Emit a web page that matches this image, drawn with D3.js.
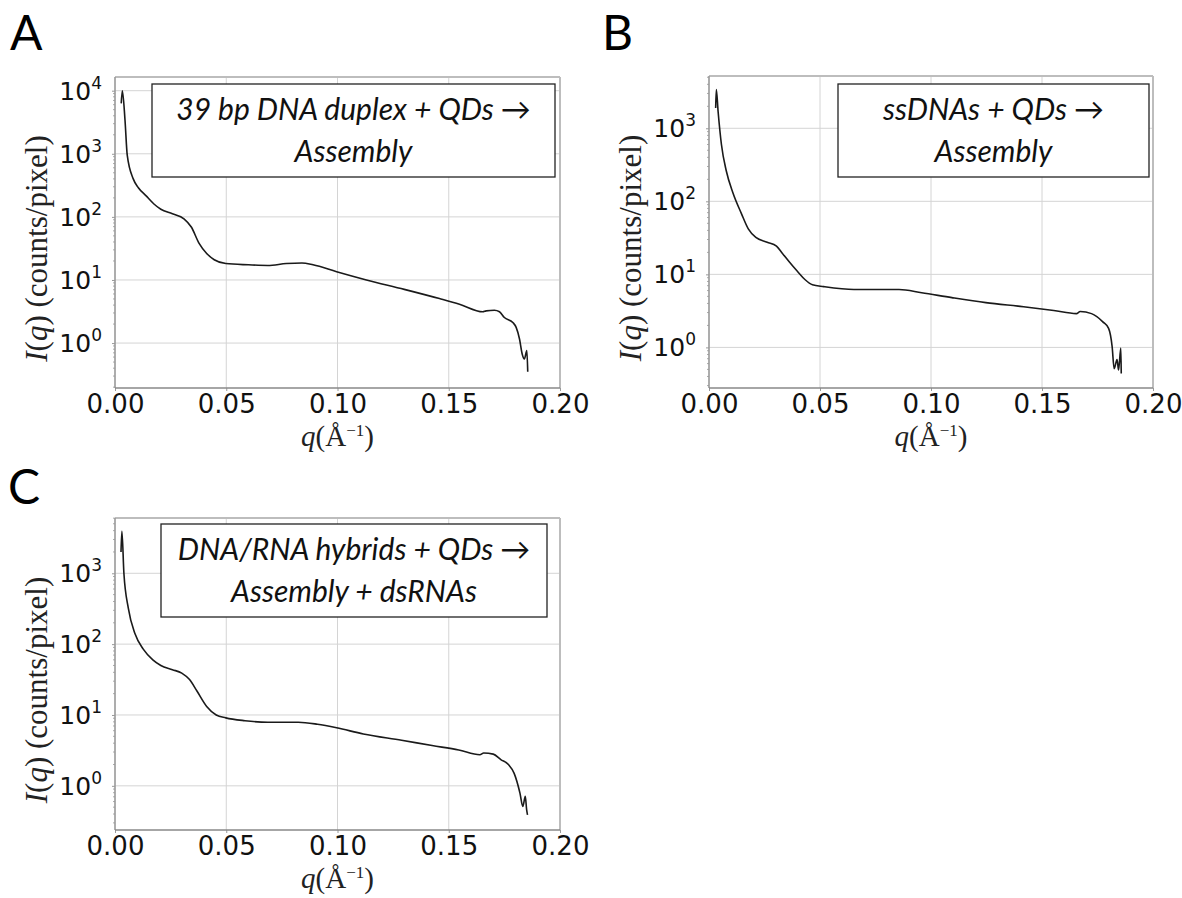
<!DOCTYPE html>
<html lang="en">
<head>
<meta charset="UTF-8"/>
<title>SAXS profiles</title>
<script src="https://d3js.org/d3.v7.min.js"></script>
<style>
  body { margin: 0; background: #fff; }
  svg { display: block; }
</style>
</head>
<body>
<div id="chart"></div>
<script>
// ---- data ----
var xTicks = [0, 0.05, 0.10, 0.15, 0.20];

// panel A : 39 bp DNA duplex + QDs
var qA = [0.0028, 0.0033, 0.0045, 0.0055, 0.0082, 0.0105, 0.0140, 0.0175, 0.0206, 0.0258, 0.0310, 0.0343,
          0.0378, 0.0412, 0.0446, 0.0498, 0.0600, 0.0687, 0.0770, 0.0840, 0.0890, 0.0996, 0.1130, 0.1300,
          0.1458, 0.1548, 0.1653, 0.1668, 0.1705, 0.1728, 0.1750, 0.1788, 0.1803, 0.1818, 0.1830, 0.1840,
          0.1851, 0.1855];
var iA = [6300, 10000, 3400, 950, 400, 290, 215, 160, 132, 112, 93, 69,
          38, 26.3, 20.9, 18.2, 17.4, 17.0, 18.2, 18.6, 17.4, 13.5, 10.0, 7.1,
          5.07, 4.13, 3.13, 3.24, 3.31, 3.13, 2.54, 2.12, 1.77, 1.16, 0.67, 0.56,
          0.76, 0.35];
var yTicksA = [1, 10, 100, 1000, 10000];
var boxA = ["39 bp DNA duplex + QDs \u2192", "Assembly"];

// panel B : ssDNAs + QDs
var qB = [0.0030, 0.0033, 0.0041, 0.0056, 0.0078, 0.0108, 0.0146, 0.0177, 0.0211, 0.0262, 0.0304, 0.0330,
          0.0364, 0.0398, 0.0432, 0.0466, 0.0517, 0.0653, 0.0754, 0.0856, 0.0958, 0.1094, 0.1247, 0.1417,
          0.1553, 0.1655, 0.1672, 0.1723, 0.1774, 0.1800, 0.1816, 0.1825, 0.1838, 0.1845, 0.1855, 0.1857];
var iB = [1900, 3400, 1700, 600, 260, 130, 68, 42, 32, 27.5, 24.3, 19.5,
          14.5, 11, 8.5, 7.2, 6.8, 6.2, 6.2, 6.2, 5.6, 4.8, 4.1, 3.6,
          3.2, 2.9, 3.1, 2.9, 2.24, 1.82, 1.02, 0.51, 0.68, 0.49, 0.98, 0.44];
var yTicksB = [1, 10, 100, 1000];
var boxB = ["ssDNAs + QDs \u2192", "Assembly"];

// panel C : DNA/RNA hybrids + QDs
var qC = [0.0027, 0.0031, 0.0040, 0.0060, 0.0090, 0.0127, 0.0170, 0.0206, 0.0258, 0.0300, 0.0335, 0.0369,
          0.0412, 0.0455, 0.0498, 0.0584, 0.0687, 0.0824, 0.0910, 0.0996, 0.1116, 0.1288, 0.1425, 0.1545,
          0.1640, 0.1657, 0.1700, 0.1734, 0.1768, 0.1794, 0.1820, 0.1833, 0.1844, 0.1850, 0.1854];
var iC = [2000, 3900, 1000, 320, 140, 85, 60, 50, 43.6, 39, 31.6, 21.6,
          13.2, 10, 9.1, 8.3, 7.9, 7.9, 7.4, 6.6, 5.4, 4.4, 3.7, 3.2,
          2.75, 2.9, 2.8, 2.35, 2.0, 1.5, 0.79, 0.51, 0.71, 0.46, 0.39];
var yTicksC = [1, 10, 100, 1000];
var boxC = ["DNA/RNA hybrids + QDs \u2192", "Assembly + dsRNAs"];

var w = 1182, h = 898;

var svg = d3.select("#chart").append("svg")
    .attr("width", w)
    .attr("height", h);

svg.append("rect").attr("width", w).attr("height", h).attr("fill", "#fff");

var panels = [
  { letter: "A", lx: 10, ly: 50, left: 115, right: 560, top: 77, bottom: 388,
    ymin: 0.194, ymax: 16480, q: qA, I: iA, ticks: yTicksA, box: boxA,
    bx0: 152, bx1: 555, by0: 84, by1: 177 },
  { letter: "B", lx: 602, ly: 50, left: 709, right: 1153, top: 76, bottom: 388,
    ymin: 0.278, ymax: 5200, q: qB, I: iB, ticks: yTicksB, box: boxB,
    bx0: 838, bx1: 1149, by0: 84, by1: 177 },
  { letter: "C", lx: 8, ly: 504, left: 115, right: 560, top: 518, bottom: 830,
    ymin: 0.238, ymax: 6030, q: qC, I: iC, ticks: yTicksC, box: boxC,
    bx0: 161, bx1: 547, by0: 524, by1: 617 }
];

panels.forEach(drawPanel);

function drawPanel(p) {
  var x = d3.scaleLinear().domain([0, 0.2]).range([p.left, p.right]);
  var y = d3.scaleLog().domain([p.ymin, p.ymax]).range([p.bottom, p.top]);
  var g = svg.append("g");

  // panel letter
  svg.append("text")
     .attr("x", p.lx).attr("y", p.ly)
     .attr("font-family", "Lato, 'Open Sans', sans-serif")
     .attr("font-size", "48px")
     .attr("fill", "#000")
     .text(p.letter);

  // grid
  g.selectAll(".gx").data(xTicks).enter().append("line")
     .attr("x1", function(d) { return x(d); }).attr("x2", function(d) { return x(d); })
     .attr("y1", p.top).attr("y2", p.bottom)
     .attr("stroke", "#d4d4d4").attr("stroke-width", 1);
  g.selectAll(".gy").data(p.ticks).enter().append("line")
     .attr("x1", p.left).attr("x2", p.right)
     .attr("y1", function(d) { return y(d); }).attr("y2", function(d) { return y(d); })
     .attr("stroke", "#d4d4d4").attr("stroke-width", 1);

  // minor log ticks on the left spine
  var minors = [];
  var lo = Math.floor(Math.log10(p.ymin)), hi = Math.ceil(Math.log10(p.ymax));
  for (var e = lo; e < hi; e++) {
    for (var m = 2; m < 10; m++) {
      var v = m * Math.pow(10, e);
      if (v > p.ymin && v < p.ymax) minors.push(v);
    }
  }
  g.selectAll(".mt").data(minors).enter().append("line")
     .attr("x1", p.left - 2).attr("x2", p.left)
     .attr("y1", function(d) { return y(d); }).attr("y2", function(d) { return y(d); })
     .attr("stroke", "#aaa").attr("stroke-width", 1);

  // x axis
  var xAxis = d3.axisBottom(x).tickValues(xTicks).tickFormat(d3.format(".2f")).tickSize(3).tickPadding(4);
  var xg = g.append("g")
     .attr("transform", "translate(0," + p.bottom + ")")
     .call(xAxis);
  xg.select(".domain").remove();
  xg.selectAll("line").attr("stroke", "#999");
  xg.selectAll("text")
     .attr("font-family", "'DejaVu Sans', sans-serif")
     .attr("font-size", "26px")
     .attr("fill", "#111");

  // y axis (labels as 10^n)
  var yAxis = d3.axisLeft(y).tickValues(p.ticks).tickFormat("").tickSize(3);
  var yg = g.append("g")
     .attr("transform", "translate(" + p.left + ",0)")
     .call(yAxis);
  yg.select(".domain").remove();
  yg.selectAll("line").attr("stroke", "#999");
  var lab = g.selectAll(".yl").data(p.ticks).enter().append("text")
     .attr("x", p.left - 13)
     .attr("y", function(d) { return y(d) + 9; })
     .attr("text-anchor", "end")
     .attr("font-family", "'DejaVu Sans', sans-serif")
     .attr("font-size", "25px")
     .attr("fill", "#111");
  lab.append("tspan").text("10");
  lab.append("tspan")
     .attr("font-size", "17px")
     .attr("dy", -11)
     .text(function(d) { return Math.round(Math.log10(d)); });

  // spines
  g.append("line").attr("x1", p.left).attr("x2", p.right).attr("y1", p.top).attr("y2", p.top)
     .attr("stroke", "#bdbdbd").attr("stroke-width", 2);
  g.append("line").attr("x1", p.right).attr("x2", p.right).attr("y1", p.top).attr("y2", p.bottom)
     .attr("stroke", "#bdbdbd").attr("stroke-width", 2);
  g.append("line").attr("x1", p.left).attr("x2", p.left).attr("y1", p.top).attr("y2", p.bottom)
     .attr("stroke", "#999").attr("stroke-width", 1.5);
  g.append("line").attr("x1", p.left).attr("x2", p.right).attr("y1", p.bottom).attr("y2", p.bottom)
     .attr("stroke", "#888").attr("stroke-width", 1.5);

  // curve
  var pts = p.q.map(function(d, i) { return [d, p.I[i]]; });
  var line = d3.line()
     .x(function(d) { return x(d[0]); })
     .y(function(d) { return y(d[1]); })
     .curve(d3.curveMonotoneX);
  g.append("path")
     .datum(pts)
     .attr("d", line)
     .attr("fill", "none")
     .attr("stroke", "#1a1a1a")
     .attr("stroke-width", 1.6)
     .attr("stroke-linejoin", "round");

  // annotation box
  g.append("rect")
     .attr("x", p.bx0).attr("y", p.by0)
     .attr("width", p.bx1 - p.bx0).attr("height", p.by1 - p.by0)
     .attr("fill", "#fff").attr("stroke", "#222").attr("stroke-width", 1.3);
  var cx = (p.bx0 + p.bx1) / 2;
  g.selectAll(".bt").data(p.box).enter().append("text")
     .attr("x", cx)
     .attr("y", function(d, i) { return p.by0 + 36 + i * 42; })
     .attr("text-anchor", "middle")
     .attr("font-family", "Lato, 'Open Sans', sans-serif")
     .attr("font-style", "italic")
     .attr("font-size", "30px")
     .attr("fill", "#111")
     .text(function(d) { return d; });

  // axis labels
  var xl = g.append("text")
     .attr("x", (p.left + p.right) / 2)
     .attr("y", p.bottom + 58)
     .attr("text-anchor", "middle")
     .attr("font-family", "'Liberation Serif', 'DejaVu Serif', serif")
     .attr("font-size", "29px")
     .attr("fill", "#222");
  xl.append("tspan").attr("font-style", "italic").text("q");
  xl.append("tspan").text("(\u00C5");
  xl.append("tspan").attr("font-size", "17px").attr("dy", -10).text("\u22121");
  xl.append("tspan").attr("dy", 10).text(")");

  var cy = (p.top + p.bottom) / 2 + 16;
  var yl = g.append("text")
     .attr("transform", "translate(" + (p.left - 68) + "," + cy + ") rotate(-90)")
     .attr("text-anchor", "middle")
     .attr("font-family", "'Liberation Serif', 'DejaVu Serif', serif")
     .attr("font-size", "31px")
     .attr("fill", "#222");
  yl.append("tspan").attr("font-style", "italic").text("I");
  yl.append("tspan").text("(");
  yl.append("tspan").attr("font-style", "italic").text("q");
  yl.append("tspan").text(") (counts/pixel)");
}
</script>
</body>
</html>
